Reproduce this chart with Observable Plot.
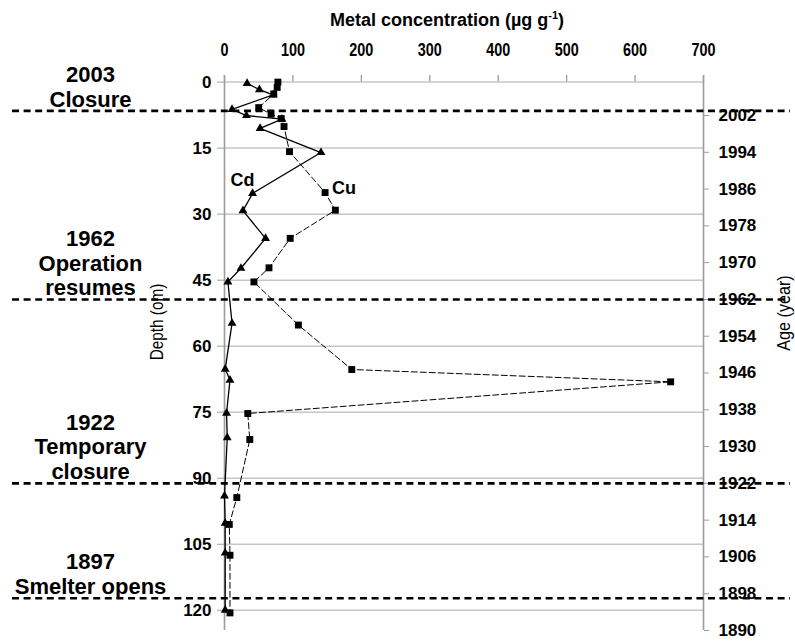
<!DOCTYPE html>
<html><head><meta charset="utf-8">
<script src="https://cdn.jsdelivr.net/npm/d3@7"></script>
<script src="https://cdn.jsdelivr.net/npm/@observablehq/plot@0.6"></script>
<style>
body{margin:0;background:#fff;font-family:"Liberation Sans",Arial,sans-serif;}
#wrap{position:relative;width:795px;height:642px;overflow:hidden;background:#fff;}
#title{position:absolute;top:9px;left:447px;transform:translateX(-50%);font-weight:bold;font-size:18px;white-space:nowrap;color:#000;}
#title sup{font-size:11px;}
#charts{position:absolute;top:36px;left:0;width:795px;height:606px;}
#charts svg{position:absolute;top:0;left:0;}
</style></head><body>
<div id="wrap"><div id="title">Metal concentration (µg g<sup>-1</sup>)</div><div id="charts"></div></div>
<script>
// ---- data ----
const cdDepth = [0.3, 1.7, 2.9, 6.2, 7.6, 8.4, 10.5, 16, 25.3, 29.2, 35.5, 42.3, 45.4, 54.8, 65.2, 67.7, 75.2, 80.8, 94, 100.2, 107, 120];
const cdValue = [33, 51, 71, 11, 32, 84, 52, 141, 41, 27, 60, 24, 5, 11, 1, 8, 3, 4, 0, 1, 1, 1];
const cuDepth = [0, 1.2, 2.7, 5.8, 7.3, 8.3, 10.1, 15.8, 25.1, 29.1, 35.5, 42.2, 45.4, 55.2, 65.3, 68.1, 75.3, 81.2, 94.4, 100.5, 107.5, 120.6];
const cuValue = [78, 77, 72, 50, 68, 83, 87, 95, 147, 162, 96, 65, 43, 108, 186, 652, 34, 37, 18, 7, 8, 8];
const concTicks = [0, 100, 200, 300, 400, 500, 600, 700];
const depthTicks = [0, 15, 30, 45, 60, 75, 90, 105, 120];
const ageTicks = [1890, 1898, 1906, 1914, 1922, 1930, 1938, 1946, 1954, 1962, 1970, 1978, 1986, 1994, 2002];
const eventYears = [2003, 1962, 1922, 1897];
const eventLabels = ["2003\nClosure", "1962\nOperation\nresumes", "1922\nTemporary\nclosure", "1897\nSmelter opens"];
const seriesNames = ["Cd", "Cu"];
const depthTitle = "Depth (om)";
const ageTitle = "Age (year)";

// ---- build ----
const cd = cdDepth.map((d, i) => ({depth: d, value: cdValue[i]}));
const cu = cuDepth.map((d, i) => ({depth: d, value: cuValue[i]}));
const W = 795, H = 606;
const font = "'Liberation Sans', Arial, sans-serif";
const M = {marginLeft: 224, marginRight: 92, marginTop: 39, marginBottom: 12};
const axisGray = "#9c9c9c";

const main = Plot.plot({
  width: W, height: H, ...M,
  style: {fontFamily: font, background: "transparent", overflow: "visible", color: "black"},
  x: {domain: [0, 700]},
  y: {domain: [-1.5, 124.6], reverse: true},
  marks: [
    Plot.gridY(depthTicks, {stroke: "#c6c6c6", strokeOpacity: 1, strokeWidth: 1.5}),
    Plot.ruleX(concTicks, {y1: -1.5, y2: 0, stroke: axisGray, strokeWidth: 1.3}),
    Plot.ruleX([concTicks[0], concTicks[concTicks.length - 1]], {stroke: axisGray, strokeWidth: 1.6}),
    Plot.axisY({ticks: depthTicks, tickSize: 7, tickPadding: 6, stroke: axisGray, fill: "black", fontSize: 17, fontWeight: "bold", label: null, tickFormat: d => String(d)}),
    Plot.axisX({anchor: "top", ticks: concTicks, tickSize: 0, tickPadding: 20, fill: "black", fontSize: 18, fontWeight: "bold", label: null, tickFormat: d => String(d)}),
    Plot.line(cu, {x: "value", y: "depth", stroke: "black", strokeWidth: 1, strokeDasharray: "6,3"}),
    Plot.line(cd, {x: "value", y: "depth", stroke: "black", strokeWidth: 1.3}),
    Plot.dot(cu, {x: "value", y: "depth", symbol: "square", r: 3.9, fill: "black", stroke: null}),
    Plot.dot(cd, {x: "value", y: "depth", symbol: "triangle", r: 3.3, fill: "black", stroke: null}),
    Plot.text([cd[8]], {x: "value", y: "depth", text: () => seriesNames[0], dx: -10, dy: -13, fontSize: 18, fontWeight: "bold"}),
    Plot.text([cu[8]], {x: "value", y: "depth", text: () => seriesNames[1], dx: 19, dy: -4, fontSize: 18, fontWeight: "bold"}),
    Plot.text([depthTitle], {frameAnchor: "left", textAnchor: "middle", text: d => d, rotate: -90, dx: -67, dy: -31, fontSize: 18})
  ]
});

const age = Plot.plot({
  width: W, height: H, ...M,
  style: {fontFamily: font, background: "transparent", overflow: "visible", color: "black"},
  x: {type: "identity", axis: null},
  y: {domain: [1890, 2010.7]},
  marks: [
    Plot.axisY({anchor: "right", ticks: ageTicks, tickSize: 5, tickPadding: 10, stroke: axisGray, fill: "black", fontSize: 17, fontWeight: "bold", label: null, tickFormat: d => String(d)}),
    Plot.ruleY(eventYears, {x1: 12, x2: 790, stroke: "black", strokeWidth: 2.6, strokeDasharray: "7,4.6"}),
    Plot.text(eventYears, {x: 90, y: d => d, text: (d, i) => eventLabels[i], lineAnchor: "bottom", dy: -4, fontSize: 22, fontWeight: "bold", lineHeight: 1.13}),
    Plot.text([ageTitle], {x: 783, frameAnchor: "middle", text: d => d, rotate: -90, dy: -40, fontSize: 19})
  ]
});

const charts = document.getElementById("charts");
charts.appendChild(main);
charts.appendChild(age);

// condensed look for the top tick labels and axis titles
function condense(sel, k) {
  sel.each(function () {
    const t = this.getAttribute("transform");
    if (t) this.setAttribute("transform", t + ` scale(${k},1)`);
    else {
      const x = +this.getAttribute("x") || 0, y = +this.getAttribute("y") || 0;
      this.setAttribute("x", 0); this.setAttribute("y", 0);
      this.setAttribute("transform", `translate(${x},${y}) scale(${k},1)`);
    }
  });
}
condense(d3.select(main).selectAll('g[aria-label="x-axis tick label"] text'), 0.8);
condense(d3.select(main).selectAll("text").filter(function () { return this.textContent === depthTitle; }), 0.85);
condense(d3.select(age).selectAll("text").filter(function () { return this.textContent === ageTitle; }), 0.85);
</script>
</body></html>
